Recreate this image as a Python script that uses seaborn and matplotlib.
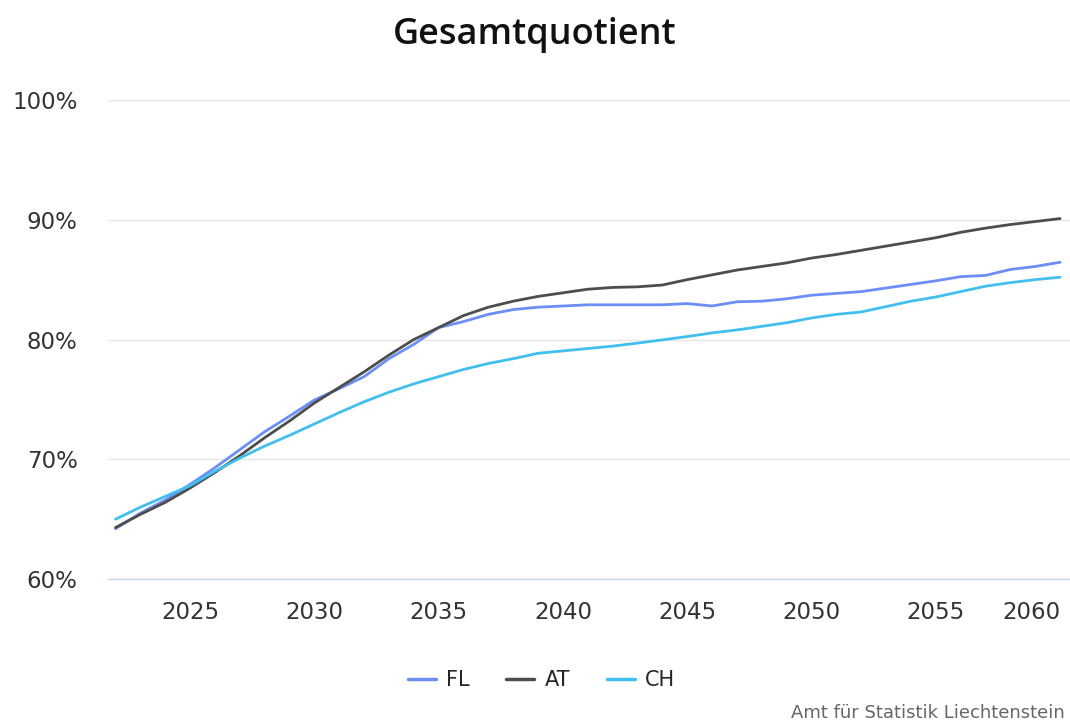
import numpy as np
import pandas as pd
import matplotlib
matplotlib.use("Agg")
import matplotlib.pyplot as plt
import seaborn as sns
from matplotlib.ticker import FuncFormatter, MultipleLocator

years = list(range(2022, 2061))

fl = [64.2, 65.5, 66.6, 67.9, 69.3, 70.8, 72.3, 73.6, 74.95, 75.9,
      76.9, 78.4, 79.6, 81.0, 81.5, 82.1, 82.5, 82.7, 82.8, 82.9,
      82.9, 82.9, 82.9, 83.0, 82.8, 83.15, 83.2, 83.4, 83.7, 83.85,
      84.0, 84.3, 84.6, 84.9, 85.25, 85.35, 85.85, 86.1, 86.45]

at = [64.3, 65.4, 66.4, 67.6, 68.9, 70.3, 71.8, 73.2, 74.7, 76.0,
      77.3, 78.7, 80.0, 81.0, 82.0, 82.7, 83.2, 83.6, 83.9, 84.2,
      84.35, 84.4, 84.55, 85.0, 85.4, 85.8, 86.1, 86.4, 86.8, 87.1,
      87.45, 87.8, 88.15, 88.5, 88.95, 89.3, 89.6, 89.85, 90.1]

ch = [65.0, 66.0, 66.9, 67.8, 69.0, 70.1, 71.1, 72.0, 72.95, 73.9,
      74.8, 75.6, 76.3, 76.9, 77.5, 78.0, 78.4, 78.85, 79.05, 79.25,
      79.45, 79.7, 79.97, 80.25, 80.55, 80.8, 81.1, 81.4, 81.8, 82.1,
      82.3, 82.75, 83.2, 83.55, 84.0, 84.45, 84.75, 85.0, 85.2]

series_names = ["FL", "AT", "CH"]
colors = ["#6b8ef7", "#4d4d4d", "#41bfee"]

df = pd.DataFrame({
    "Jahr": years * 3,
    "Wert": fl + at + ch,
    "Land": sum([[n] * len(years) for n in series_names], []),
})

sns.set_style("white")
plt.rcParams["font.family"] = ["DejaVu Sans"]

fig = plt.figure(figsize=(10.7, 7.22), dpi=100)
ax = fig.add_axes([0.101, 0.198, 0.899, 0.6635])

sns.lineplot(data=df, x="Jahr", y="Wert", hue="Land", hue_order=series_names,
             palette=colors, linewidth=2.0, ax=ax, legend=False)

ax.set_xlim(2021.7, 2060.4)
ax.set_ylim(60, 100)
ax.yaxis.set_major_locator(MultipleLocator(10))
ax.xaxis.set_major_locator(MultipleLocator(5))
ax.yaxis.set_major_formatter(FuncFormatter(lambda v, p: f"{int(v)}%"))
ax.set_xlabel("")
ax.set_ylabel("")

ax.grid(axis="y", color="#e6e6e6", linewidth=1)
ax.grid(axis="x", visible=False)
for s in ["top", "right", "left"]:
    ax.spines[s].set_visible(False)
ax.spines["bottom"].set_color("#ccd6eb")
ax.spines["bottom"].set_linewidth(1)

ax.tick_params(axis="y", length=0, pad=22, labelsize=16.5, labelcolor="#333333")
ax.tick_params(axis="x", length=8, width=1, color="#ccd6eb", direction="out",
               pad=8, labelsize=16.5, labelcolor="#333333")

fig.canvas.draw()
xt = ax.get_xticks()
labels = ax.get_xticklabels()
for v, lab in zip(xt, labels):
    if abs(v - 2060) < 1e-6:
        lab.set_horizontalalignment("right")
        lab.set_x(v)

fig.text(0.5, 0.952, "Gesamtquotient", ha="center", va="center",
         fontsize=26, color="#111111", family="Open Sans", weight="semibold")

handles = [plt.Line2D([0], [0], color=c, linewidth=2.5) for c in colors]
fig.legend(handles, series_names, loc="center", bbox_to_anchor=(0.506, 0.058),
           ncol=3, frameon=False, fontsize=15, handlelength=1.35,
           columnspacing=1.75, handletextpad=0.5)

fig.text(0.995, 0.013, "Amt für Statistik Liechtenstein", ha="right", va="center",
         fontsize=13, color="#666666")

fig.savefig("out.png", dpi=100)
